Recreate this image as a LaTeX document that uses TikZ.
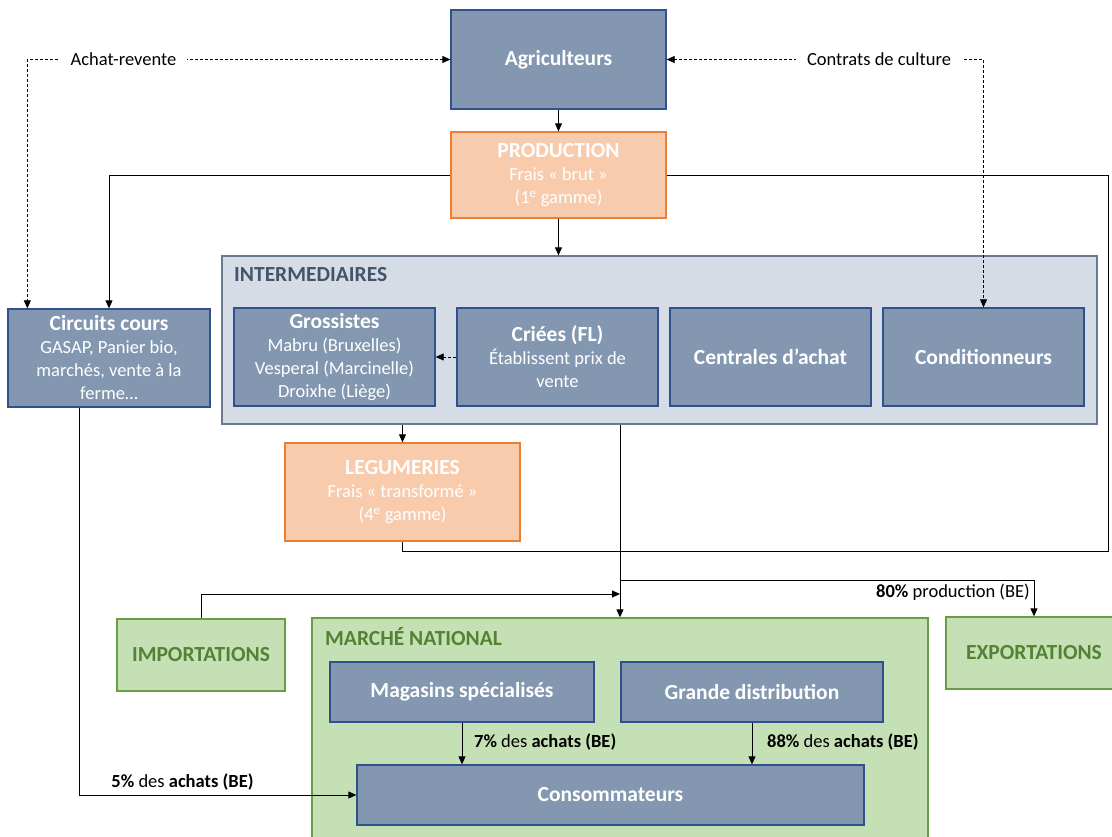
\documentclass[tikz,border=0pt]{standalone}
\usepackage{fontspec}
\setmainfont{Carlito}
\usetikzlibrary{arrows.meta}

\definecolor{boxblue}{HTML}{8497B0}
\definecolor{lineblue}{HTML}{2F528F}
\definecolor{boxorange}{HTML}{F8CBAD}
\definecolor{lineorange}{HTML}{ED7D31}
\definecolor{boxgreen}{HTML}{C5E0B4}
\definecolor{linegreen}{HTML}{6A9E45}
\definecolor{textgreen}{HTML}{548235}
\definecolor{boxgray}{HTML}{D6DCE5}
\definecolor{linegray}{HTML}{6B7A8F}
\definecolor{textgray}{HTML}{44546A}

\newcommand{\bigbf}[1]{{\fontsize{21.5}{26}\selectfont\bfseries #1}}

\begin{document}
\begin{tikzpicture}[x=1pt, y=-1pt, >={Triangle[length=8pt,width=7pt]}]
	\tikzstyle{blue box} = [draw=lineblue, fill=boxblue, line width=1.3pt, text=white, align=center, inner sep=2pt, font=\fontsize{18.5}{23}\selectfont]
	\tikzstyle{orange box} = [draw=lineorange, fill=boxorange, line width=1.3pt, text=white, align=center, inner sep=2pt, font=\fontsize{18.5}{23}\selectfont]
	\tikzstyle{green box} = [draw=linegreen, fill=boxgreen, line width=1.3pt, text=textgreen, align=center, font=\fontsize{21.5}{26}\selectfont\bfseries]
	\tikzstyle{gray box} = [draw=linegray, fill=boxgray, line width=1.3pt]
	\tikzstyle{flow} = [line width=0.9pt, black]
	\tikzstyle{dotline} = [line width=0.8pt, black, dash pattern=on 3pt off 2pt]
	\tikzstyle{flow label} = [font=\fontsize{18.5}{23}\selectfont, inner sep=0pt]
	\useasboundingbox (0,0) rectangle (1112,837);
	\node[gray box, minimum width=875pt, minimum height=168pt] (inter) at (659.5,340) {};
	\node[anchor=west, inner sep=0pt, text=textgray, font=\fontsize{21.5}{26}\selectfont\bfseries] (intertitle) at (234,275) {INTERMEDIAIRES};
	\node[green box, minimum width=616pt, minimum height=242pt] (mn) at (620,739) {};
	\node[anchor=west, inner sep=0pt, text=textgreen, font=\fontsize{21.5}{26}\selectfont\bfseries] (mntitle) at (325,637) {MARCHÉ NATIONAL};
	\node[blue box, minimum width=215pt, minimum height=99pt] (agri) at (558.5,59.5) {\bigbf{Agriculteurs}};
	\node[orange box, minimum width=215pt, minimum height=86pt] (prod) at (558.5,175) {\bigbf{PRODUCTION}\\Frais « brut »\\(1\textsuperscript{e} gamme)};
	\node[blue box, minimum width=202pt, minimum height=98pt] (circ) at (109,358) {\bigbf{Circuits cours}\\GASAP, Panier bio,\\marchés, vente à la\\ferme…};
	\node[blue box, minimum width=201pt, minimum height=98pt] (gros) at (334.5,357) {\bigbf{Grossistes}\\Mabru (Bruxelles)\\Vesperal (Marcinelle)\\Droixhe (Liège)};
	\node[blue box, minimum width=201pt, minimum height=98pt] (criee) at (557.5,357) {\bigbf{Criées (FL)}\\Établissent prix de\\vente};
	\node[blue box, minimum width=201pt, minimum height=98pt] (centr) at (770.5,357) {\bigbf{Centrales d’achat}};
	\node[blue box, minimum width=201pt, minimum height=98pt] (cond) at (983.5,357) {\bigbf{Conditionneurs}};
	\node[orange box, minimum width=235pt, minimum height=98pt] (leg) at (402.5,492) {\bigbf{LEGUMERIES}\\Frais « transformé »\\(4\textsuperscript{e} gamme)};
	\node[green box, minimum width=168pt, minimum height=72pt] (imp) at (201,655) {IMPORTATIONS};
	\node[green box, minimum width=176pt, minimum height=72pt] (exp) at (1034,653) {EXPORTATIONS};
	\node[blue box, minimum width=264pt, minimum height=60pt] (mag) at (462,692) {\bigbf{Magasins spécialisés}};
	\node[blue box, minimum width=262pt, minimum height=60pt] (gd) at (752,692) {\bigbf{Grande distribution}};
	\node[blue box, minimum width=507pt, minimum height=60pt] (cons) at (610.5,795) {\bigbf{Consommateurs}};
	\coordinate (loop) at (1108,551);
	\coordinate (split) at (620,580);
	\coordinate (impin) at (620,594);
	\draw[flow, ->] (agri) -- (prod);
	\draw[flow, ->] (prod.south) -- (prod.south |- inter.north);
	\draw[flow, ->] (prod.west) -| (circ.north);
	\draw[flow] (prod.east) -| (loop) -| (leg.south);
	\draw[dotline, <->] (agri.west) -| ([xshift=20pt]circ.north west);
	\draw[dotline, <->] (agri.east) -| (cond.north);
	\draw[dotline, ->] (criee.west) -- (gros.east);
	\draw[flow, ->] (inter.south -| leg.north) -- (leg.north);
	\draw[flow, ->] (inter.south -| mn.north) -- (mn.north);
	\draw[flow, ->] (split) -| (exp.north);
	\draw[flow, ->] (imp.north) |- (impin);
	\draw[flow, ->] (mag.south) -- (mag.south |- cons.north);
	\draw[flow, ->] (gd.south) -- (gd.south |- cons.north);
	\draw[flow, ->] ([xshift=-30pt]circ.south) |- (cons.west);
	\node[flow label, fill=white, inner xsep=11pt] (achat) at (123.5,59.5) {Achat-revente};
	\node[flow label, fill=white, inner xsep=11pt] (contrat) at (879,59.5) {Contrats de culture};
	\node[flow label, anchor=east] (exptxt) at (1030,592) {\textbf{80\%} production (BE)};
	\node[flow label] (circtxt) at (182.5,782) {\textbf{5\%} des \textbf{achats (BE)}};
	\node[flow label, anchor=west] (magtxt) at (474,742) {\textbf{7\%} des \textbf{achats (BE)}};
	\node[flow label, anchor=west] (gdtxt) at (767,742) {\textbf{88\%} des \textbf{achats (BE)}};
\end{tikzpicture}
\end{document}
